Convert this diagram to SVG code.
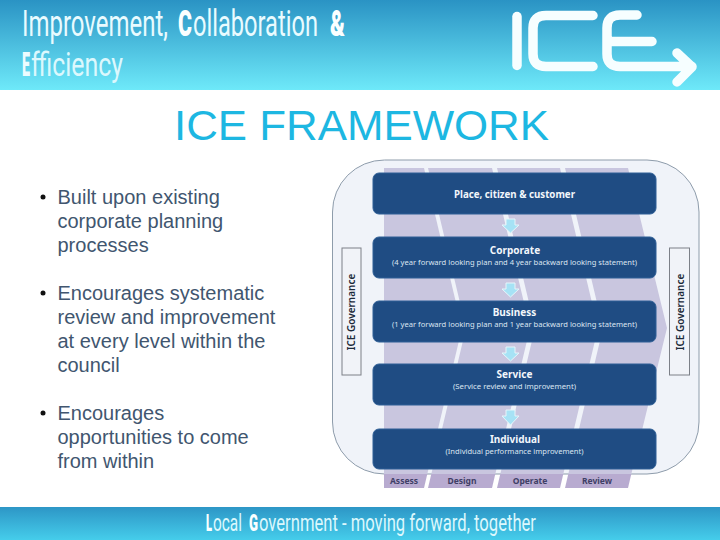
<svg xmlns="http://www.w3.org/2000/svg" width="720" height="540" viewBox="0 0 720 540">
<style>
.hd{font-family:"Roboto","Liberation Sans",sans-serif;font-weight:400;fill:#e9fbff}
.hb{font-family:"Roboto","Liberation Sans",sans-serif;font-weight:900;fill:#fbffff}
.bul{font-family:"Liberation Sans",Arial,sans-serif;font-size:20px;fill:#41566f}
.bar{fill:#1f4c83;stroke:#2f5f96;stroke-width:1}
.t{font-family:"Noto Sans","Open Sans",sans-serif;font-size:10px;font-weight:700;fill:#f2f6fb;text-anchor:middle}
.s{font-family:"Noto Sans","Open Sans",sans-serif;font-size:7.5px;fill:#dbe5f1;text-anchor:middle}
.col{fill:#c9c6df}
.cell{fill:#b8abd0}
.lab{font-family:"Noto Sans","Open Sans",sans-serif;font-size:8.5px;font-weight:700;fill:#3f3f66;text-anchor:middle}
.gov{fill:#f1f3f8;stroke:#7c8088;stroke-width:1}
.gt{font-family:"Noto Sans","Open Sans",sans-serif;font-size:10px;font-weight:600;fill:#1c2a3a;text-anchor:middle}
.ar{fill:#a6e2f5;stroke:#e6f5fa;stroke-width:1}
.logo{fill:none;stroke:#f6feff;stroke-width:9.500;stroke-linecap:round;stroke-linejoin:round}
</style>
<defs>
<linearGradient id="hg" x1="0" y1="0" x2="0" y2="1"><stop offset="0" stop-color="#2a93c4"/><stop offset="1" stop-color="#6ee9f9"/></linearGradient>
<linearGradient id="fg" x1="0" y1="0" x2="0" y2="1"><stop offset="0" stop-color="#2d96c6"/><stop offset="1" stop-color="#45cdeb"/></linearGradient>
</defs>
<rect width="720" height="540" fill="#fff"/>
<rect id="header" width="720" height="90" fill="url(#hg)"/>
<rect id="footer" y="507" width="720" height="33" fill="url(#fg)"/>
<g id="header-text">
<text class="hd" transform="translate(22 36) scale(.644 1)" font-size="37" textLength="226.700" lengthAdjust="spacingAndGlyphs">Improvement,</text>
<text class="hb" transform="translate(178 36) scale(.58 1)" font-size="37" textLength="24.100" lengthAdjust="spacingAndGlyphs">C</text>
<text class="hd" transform="translate(193 36) scale(.637 1)" font-size="37" textLength="196.200" lengthAdjust="spacingAndGlyphs">ollaboration</text>
<text class="hb" transform="translate(330 36) scale(.6 1)" font-size="37" textLength="25" lengthAdjust="spacingAndGlyphs">&amp;</text>
<text class="hb" transform="translate(22 76) scale(.42 1)" font-size="34" textLength="19" lengthAdjust="spacingAndGlyphs" style="fill:#ecfcff">E</text>
<text class="hd" transform="translate(31 76) scale(.713 1)" font-size="34" textLength="129" lengthAdjust="spacingAndGlyphs" style="fill:#dcf8fd">fficiency</text>
</g>
<g id="logo">
<path class="logo" d="M517 16.500V65.500"/>
<path class="logo" d="M593 15.500H546Q533 15.500 533 28V54Q533 66.500 546 66.500H593"/>
<path class="logo" d="M637 15H620Q607 15 607 28V54Q607 66.500 620 66.500H692M612 41.500H652M677 53L692 67L677 82"/>
</g>
<text x="361.500" y="140" font-family="'Liberation Sans',Arial,sans-serif" font-size="42" fill="#1db7e2" text-anchor="middle" textLength="375" lengthAdjust="spacingAndGlyphs">ICE FRAMEWORK</text>
<g id="bullets" class="bul">
<circle cx="43" cy="197" r="2.500" fill="#111"/>
<text x="57.500" y="204">Built upon existing</text>
<text x="57.500" y="228">corporate planning</text>
<text x="57.500" y="252">processes</text>
<circle cx="43" cy="293" r="2.500" fill="#111"/>
<text x="57.500" y="300">Encourages systematic</text>
<text x="57.500" y="324">review and improvement</text>
<text x="57.500" y="348">at every level within the</text>
<text x="57.500" y="372">council</text>
<circle cx="43" cy="413" r="2.500" fill="#111"/>
<text x="57.500" y="420">Encourages</text>
<text x="57.500" y="444">opportunities to come</text>
<text x="57.500" y="468">from within</text>
</g>
<rect id="panel" x="332.500" y="160" width="366.500" height="314" rx="52" fill="#f0f3f9" stroke="#8e9cab" stroke-width="1"/>
<g id="columns">
<path class="col" d="M384 168H424L462 328L427.300 474H384Z"/>
<path class="col" d="M428 168H492L530 328L495.300 474H431.300L466 328Z"/>
<path class="col" d="M497 168H560L598 328L563.300 474H500.300L535 328Z"/>
<path class="col" d="M565 168H628L667 328L631.300 474H568.300L603 328Z"/>
<path class="cell" d="M384 474H427.300L424 488H384Z"/>
<path class="cell" d="M431.300 474H495.300L492 488H428Z"/>
<path class="cell" d="M500.300 474H563.300L560 488H497Z"/>
<path class="cell" d="M568.300 474H631.300L628 488H565Z"/>
</g>
<g id="col-labels">
<text class="lab" x="404" y="484">Assess</text>
<text class="lab" x="462" y="484">Design</text>
<text class="lab" x="530" y="484">Operate</text>
<text class="lab" x="597" y="484">Review</text>
</g>
<g id="gov-left"><rect class="gov" x="342" y="248" width="19" height="127"/><text class="gt" transform="translate(355 312) rotate(-90)">ICE Governance</text></g>
<g id="gov-right"><rect class="gov" x="669.500" y="248" width="20" height="127"/><text class="gt" transform="translate(684 312) rotate(-90)">ICE Governance</text></g>
<g id="connectors">
<path class="ar" d="M506 219H515V225H519L510.500 233L502 225H506Z"/>
<path class="ar" d="M506 283H515V289H519L510.500 297L502 289H506Z"/>
<path class="ar" d="M506 347H515V353H519L510.500 361L502 353H506Z"/>
<path class="ar" d="M506 410H515V416H519L510.500 425L502 416H506Z"/>
</g>
<g id="place"><rect class="bar" x="373" y="173" width="283" height="41" rx="6"/><text class="t" x="514.500" y="198" textLength="121" lengthAdjust="spacingAndGlyphs">Place, citizen &amp; customer</text></g>
<g id="corporate"><rect class="bar" x="373" y="237" width="283" height="41" rx="6"/><text class="t" x="515" y="254">Corporate</text><text class="s" x="514.500" y="265" textLength="245" lengthAdjust="spacingAndGlyphs">(4 year forward looking plan and 4 year backward looking statement)</text></g>
<g id="business"><rect class="bar" x="373" y="301" width="283" height="41" rx="6"/><text class="t" x="514.500" y="316">Business</text><text class="s" x="514.500" y="327" textLength="245" lengthAdjust="spacingAndGlyphs">(1 year forward looking plan and 1 year backward looking statement)</text></g>
<g id="service"><rect class="bar" x="373" y="364" width="283" height="41" rx="6"/><text class="t" x="514.500" y="378">Service</text><text class="s" x="514.500" y="389" textLength="123" lengthAdjust="spacingAndGlyphs">(Service review and improvement)</text></g>
<g id="individual"><rect class="bar" x="373" y="429" width="283" height="40" rx="6"/><text class="t" x="515" y="443">Individual</text><text class="s" x="514.500" y="454" textLength="138" lengthAdjust="spacingAndGlyphs">(Individual performance improvement)</text></g>
<g id="footer-text">
<text class="hb" transform="translate(206 531) scale(.46 1)" font-size="24" textLength="13" lengthAdjust="spacingAndGlyphs">L</text>
<text class="hd" transform="translate(213 531) scale(.64 1)" font-size="24" textLength="45.300" lengthAdjust="spacingAndGlyphs" style="fill:#dcf8fd">ocal</text>
<text class="hb" transform="translate(249 531) scale(.55 1)" font-size="24" textLength="16.400" lengthAdjust="spacingAndGlyphs">G</text>
<text class="hd" transform="translate(259 531) scale(.69 1)" font-size="24" textLength="401.400" lengthAdjust="spacingAndGlyphs" style="fill:#dcf8fd">overnment - moving forward, together</text>
</g>
</svg>
